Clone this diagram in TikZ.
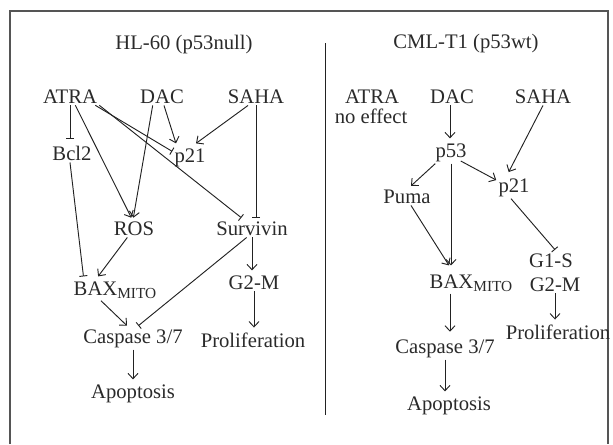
\documentclass[tikz,border=0pt]{standalone}
\usepackage{fontspec}
\setmainfont{Liberation Serif}
\usetikzlibrary{arrows.meta}
\definecolor{txt}{HTML}{2A2A2A}
\definecolor{ln}{HTML}{222222}
\definecolor{frm}{HTML}{555555}
\newcommand{\mito}{\raisebox{-0.35ex}{\fontsize{11.5}{11.5}\selectfont MITO}}
\begin{document}
\begin{tikzpicture}[x=0.75pt,y=-0.75pt,
  lbl/.style={anchor=base,inner sep=1.5pt,font=\fontsize{15.5}{17}\selectfont,text=txt},
  act/.style={draw=ln,line width=0.7pt,-{Straight Barb[length=4pt,width=7.5pt]}},
  inh/.style={draw=ln,line width=0.7pt,-{Bar[width=6pt]}},
  frameline/.style={draw=frm,line width=0.8pt}]
\useasboundingbox (0,0) rectangle (613,444);
% frame
\coordinate (fbl) at (10,444);
\coordinate (ftl) at (10,11);
\coordinate (ftr) at (608,11);
\coordinate (fbr) at (608,444);
\draw[frameline] (fbl) -- (ftl) -- (ftr) -- (fbr);
\coordinate (dtop) at (325,43);
\coordinate (dbot) at (325,415);
\draw[draw=ln,line width=0.7pt] (dtop) -- (dbot);
% titles
\node[lbl] (t1) at (184,49) {HL-60 (p53null)};
\node[lbl] (t2) at (466,48) {CML-T1 (p53wt)};
% left panel
\node[lbl] (atraL) at (70,103) {ATRA};
\node[lbl] (dacL) at (162,103) {DAC};
\node[lbl] (sahaL) at (256,103) {SAHA};
\node[lbl] (bcl2) at (72,160) {Bcl2};
\node[lbl] (p21L) at (190,162) {p21};
\node[lbl] (ros) at (134,235) {ROS};
\node[lbl] (surv) at (252,235) {Survivin};
\node[lbl] (baxL) at (115,295) {BAX\mito};
\node[lbl] (g2L) at (254,289) {G2-M};
\node[lbl] (casL) at (133,343) {Caspase 3/7};
\node[lbl] (prolL) at (253,347) {Proliferation};
\node[lbl] (apoL) at (133,398) {Apoptosis};
% right panel
\node[lbl] (atraR) at (372,103) {ATRA};
\node[lbl] (noeff) at (371,123) {no effect};
\node[lbl] (dacR) at (452,103) {DAC};
\node[lbl] (sahaR) at (543,103) {SAHA};
\node[lbl] (p53) at (451,157) {p53};
\node[lbl] (p21R) at (514,192) {p21};
\node[lbl] (puma) at (407,203) {Puma};
\node[lbl] (baxR) at (471,288) {BAX\mito};
\node[lbl] (g1s) at (551,267) {G1-S};
\node[lbl] (g2R) at (555,291) {G2-M};
\node[lbl] (prolR) at (558,339) {Proliferation};
\node[lbl] (casR) at (445,353) {Caspase 3/7};
\node[lbl] (apoR) at (449,410) {Apoptosis};
% left edges
\draw[inh] (atraL.south) -- ([yshift=3pt]atraL.south |- bcl2.north);
\draw[act] ([xshift=4pt]atraL.south) -- ([xshift=-2pt,yshift=1pt]ros.north);
\draw[inh] ([xshift=-3pt]atraL.south east) -- ([yshift=-4pt]p21L.north west);
\draw[inh] (atraL.south east) -- ([xshift=-8pt,yshift=1pt]surv.north);
\draw[act] ([xshift=-7pt]dacL.south) -- ([xshift=-0.5pt,yshift=1pt]ros.north);
\draw[act] ([xshift=1.5pt]dacL.south) -- ([xshift=-10.5pt,yshift=2pt]p21L.north);
\draw[act] ([xshift=-6pt]sahaL.south) -- ([xshift=4.5pt,yshift=2pt]p21L.north);
\draw[inh] (sahaL.south) -- ([yshift=1pt]sahaL.south |- surv.north);
\draw[inh] ([xshift=-1.5pt]bcl2.south) -- ([xshift=9pt,yshift=2pt]baxL.north west);
\draw[act] ([xshift=-5pt]ros.south) -- ([xshift=20pt,yshift=2pt]baxL.north west);
\draw[act] (surv.south) -- ([yshift=2pt]surv.south |- g2L.north);
\draw[inh] ([xshift=-4pt]surv.south) -- ([xshift=4pt,yshift=1pt]casL.north);
\draw[act] ([xshift=-10.5pt]baxL.south) -- ([xshift=-4.5pt,yshift=1pt]casL.north);
\draw[act] (g2L.south) -- ([yshift=2pt]g2L.south |- prolL.north);
\draw[act] (casL.south) -- ([yshift=2pt]casL.south |- apoL.north);
% right edges
\draw[act] ([xshift=-1.5pt]dacR.south) -- ([xshift=-1.5pt,yshift=2pt]dacR.south |- p53.north);
\draw[act] ([xshift=1.5pt]p53.south west) -- ([xshift=3pt,yshift=1pt]puma.north);
\draw[act] ([xshift=-6pt,yshift=2pt]p53.south east) -- ([yshift=-3pt]p21R.north west);
\draw[act] (sahaR.south) -- ([xshift=-4pt,yshift=3pt]p21R.north);
\draw[act] (p53.south) -- ([yshift=5pt]p53.south |- baxR.north);
\draw[act] ([xshift=3pt]puma.south) -- ([xshift=-16.5pt,yshift=5pt]baxR.north);
\draw[inh] ([xshift=-2.25pt]p21R.south) -- ([xshift=3pt,yshift=1pt]g1s.north);
\draw[act] ([xshift=-15.75pt]baxR.south) -- ([xshift=-15.75pt,yshift=4pt]baxR.south |- casR.north);
\draw[act] (g2R.south) -- ([yshift=2pt]g2R.south |- prolR.north);
\draw[act] (casR.south) -- ([yshift=2pt]casR.south |- apoR.north);
\end{tikzpicture}
\end{document}
